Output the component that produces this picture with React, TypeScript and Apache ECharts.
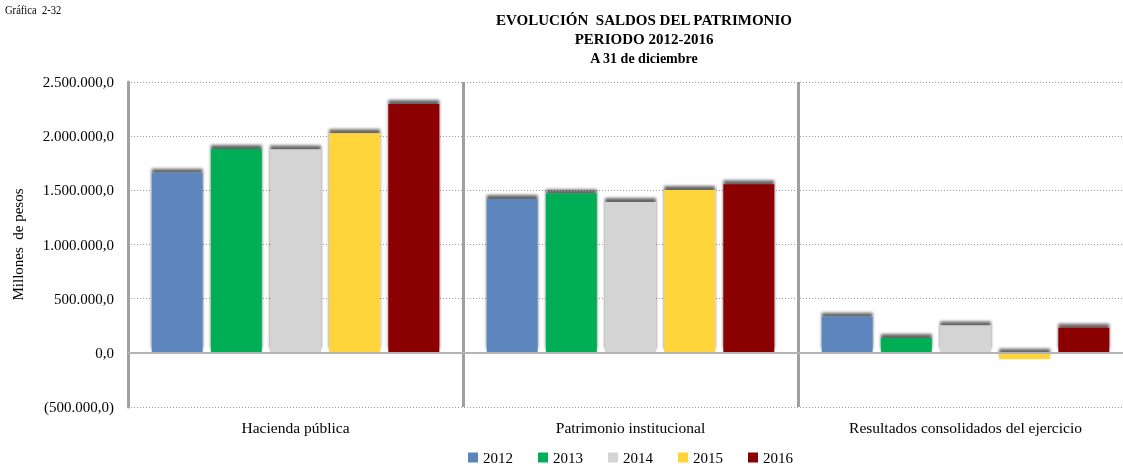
import React, { useEffect, useRef } from "react";
import * as echarts from "echarts";

const categories = ["Hacienda pública", "Patrimonio institucional", "Resultados consolidados del ejercicio"];
const years = ["2012", "2013", "2014", "2015", "2016"];
const s2012 = [1663000, 1421000, 332000];
const s2013 = [1882000, 1470000, 138000];
const s2014 = [1876000, 1393000, 252000];
const s2015 = [2027000, 1504000, -59000];
const s2016 = [2297000, 1556000, 231000];
const yTicks = { min: -500000, max: 2500000, interval: 500000 };
const colors = ["#5b86bd", "#00ae55", "#d4d4d4", "#ffd53a", "#8b0000"];

const FONT = "'Liberation Serif', 'Times New Roman', serif";

function fmt(v: number): string {
  const a = Math.abs(Math.round(v));
  const s = a.toString().replace(/\B(?=(\d{3})+(?!\d))/g, ".") + ",0";
  return v < 0 ? "(" + s + ")" : s;
}

export default function App() {
  const ref = useRef<HTMLDivElement>(null);
  useEffect(() => {
    if (!ref.current) return;
    const chart = echarts.init(ref.current, undefined, { renderer: "svg" });
    const seriesData = [s2012, s2013, s2014, s2015, s2016];
    const series: any[] = seriesData.map((d, i) => ({
      name: years[i],
      type: "bar",
      data: d,
      barWidth: 51,
      barGap: "16%",
      itemStyle: {
        color: colors[i],
        shadowColor: "rgba(0,0,0,0.6)",
        shadowBlur: 3,
        shadowOffsetY: -4,
      },
      ...(i === 0
        ? {
            markLine: {
              silent: true,
              symbol: "none",
              label: { show: false },
              lineStyle: { color: "#b4b4b4", width: 2, type: "solid" },
              data: [{ yAxis: 0 }],
            },
          }
        : {}),
    }));
    chart.setOption({
      animation: false,
      textStyle: { fontFamily: FONT },
      grid: { left: 128, top: 82, width: 1005, height: 325, containLabel: false },
      graphic: [
        { type: "text", x: 5, y: 4, scaleX: 0.88, style: { text: "Gráfica  2-32", fontSize: 12, fontFamily: FONT, fill: "#000" } },
        { type: "text", x: 644, y: 20, style: { text: "EVOLUCIÓN  SALDOS DEL PATRIMONIO", align: "center", verticalAlign: "middle", fontSize: 15, fontWeight: "bold", fontFamily: FONT, fill: "#000" } },
        { type: "text", x: 644, y: 38.5, style: { text: "PERIODO 2012-2016", align: "center", verticalAlign: "middle", fontSize: 15, fontWeight: "bold", fontFamily: FONT, fill: "#000" } },
        { type: "text", x: 644, y: 58, style: { text: "A 31 de diciembre", align: "center", verticalAlign: "middle", fontSize: 14, fontWeight: "bold", fontFamily: FONT, fill: "#000" } },
      ],
      legend: {
        data: years,
        left: 463,
        top: 445,
        icon: "rect",
        itemWidth: 10,
        itemHeight: 10,
        itemGap: 25,
        textStyle: { fontSize: 15, fontFamily: FONT, color: "#000" },
      },
      xAxis: {
        type: "category",
        data: categories,
        axisLine: { show: false, onZero: false },
        axisTick: { show: false },
        axisLabel: { fontSize: 15.5, color: "#000", margin: 12, fontFamily: FONT, interval: 0 },
        splitLine: { show: true, lineStyle: { color: "#a0a0a0", width: 3 } },
      },
      yAxis: {
        type: "value",
        min: yTicks.min,
        max: yTicks.max,
        interval: yTicks.interval,
        name: "Millones  de pesos",
        nameLocation: "middle",
        nameGap: 103,
        nameTextStyle: { fontSize: 15, color: "#000", fontFamily: FONT },
        axisLine: { show: true, lineStyle: { color: "#a0a0a0", width: 3 } },
        axisTick: { show: false },
        axisLabel: { fontSize: 15, color: "#000", margin: 14, fontFamily: FONT, formatter: (v: number) => fmt(v) },
        splitLine: { show: true, lineStyle: { color: "#9a9a9a", width: 1, type: [1, 2] } },
      },
      series,
    });
    return () => chart.dispose();
  }, []);
  return <div ref={ref} style={{ position: "fixed", left: 0, top: 0, width: 1140, height: 464 }} />;
}
